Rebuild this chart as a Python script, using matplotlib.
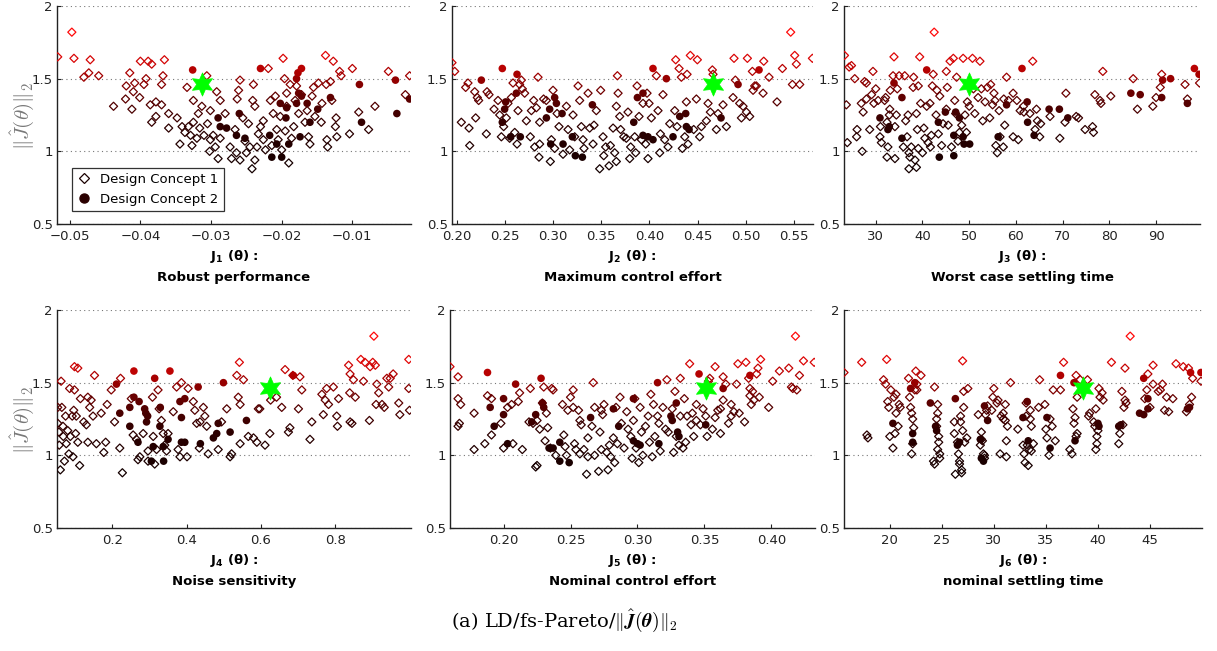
import numpy as np
import matplotlib
matplotlib.use("Agg")
import matplotlib.pyplot as plt
from matplotlib.colors import LinearSegmentedColormap, Normalize
from matplotlib.lines import Line2D

# ---- data: (J_i value, ||J(theta)||_2) ----
j1_concept1 = [
    (-0.0517, 1.65), (-0.0497, 1.82), (-0.0494, 1.64), (-0.048, 1.51), (-0.0473, 1.54), (-0.0471, 1.63),
    (-0.0459, 1.52), (-0.0438, 1.31), (-0.0421, 1.36), (-0.042, 1.45), (-0.0415, 1.54), (-0.0412, 1.29),
    (-0.041, 1.41), (-0.0408, 1.47), (-0.0401, 1.37), (-0.040, 1.62), (-0.0395, 1.46), (-0.0392, 1.50),
    (-0.0389, 1.62), (-0.0384, 1.60), (-0.0386, 1.32), (-0.0384, 1.20), (-0.0378, 1.34), (-0.0378, 1.24),
    (-0.037, 1.46), (-0.0368, 1.52), (-0.0366, 1.63), (-0.037, 1.32), (-0.036, 1.16), (-0.036, 1.26),
    (-0.0348, 1.23), (-0.0341, 1.17), (-0.0344, 1.05), (-0.0337, 1.13), (-0.0334, 1.44), (-0.0332, 1.17),
    (-0.0329, 1.11), (-0.0327, 1.04), (-0.0325, 1.35), (-0.0325, 1.20), (-0.032, 1.09), (-0.0318, 1.26),
    (-0.0316, 1.16), (-0.0313, 1.31), (-0.031, 1.11), (-0.0306, 1.52), (-0.0305, 1.19), (-0.0302, 1.00),
    (-0.0301, 1.08), (-0.0301, 1.28), (-0.0297, 1.11), (-0.0294, 1.03), (-0.0292, 1.41), (-0.029, 0.95),
    (-0.0287, 1.35), (-0.0287, 1.09), (-0.028, 1.26), (-0.0273, 1.03), (-0.0271, 0.95), (-0.0266, 1.15),
    (-0.0264, 0.99), (-0.0263, 1.36), (-0.0261, 1.42), (-0.0259, 1.49), (-0.0259, 0.94), (-0.0255, 1.23),
    (-0.0252, 1.07), (-0.025, 0.99), (-0.0247, 1.19), (-0.0245, 1.03), (-0.0242, 0.88), (-0.0241, 1.35),
    (-0.024, 1.46), (-0.0238, 1.31), (-0.0238, 0.94), (-0.0235, 1.03), (-0.0233, 1.12), (-0.023, 1.17),
    (-0.0226, 1.08), (-0.0226, 1.21), (-0.0223, 1.01), (-0.0219, 1.57), (-0.0216, 1.35), (-0.0214, 1.04),
    (-0.0212, 1.26), (-0.0209, 1.38), (-0.0207, 1.15), (-0.0205, 1.08), (-0.0202, 1.24), (-0.020, 1.01),
    (-0.0198, 1.64), (-0.0196, 1.50), (-0.0195, 1.14), (-0.0193, 1.31), (-0.0193, 1.40), (-0.019, 0.92),
    (-0.0188, 1.46), (-0.0186, 1.09), (-0.0183, 1.17), (-0.0181, 1.35), (-0.0179, 1.45), (-0.0176, 1.26),
    (-0.0172, 1.39), (-0.0167, 1.20), (-0.0164, 1.28), (-0.0162, 1.10), (-0.016, 1.05), (-0.0157, 1.38),
    (-0.0155, 1.44), (-0.0153, 1.24), (-0.0148, 1.47), (-0.0144, 1.20), (-0.0143, 1.33), (-0.0138, 1.66),
    (-0.0137, 1.46), (-0.0136, 1.08), (-0.0135, 1.03), (-0.0131, 1.48), (-0.0129, 1.35), (-0.0127, 1.62),
    (-0.0124, 1.17), (-0.0123, 1.23), (-0.0122, 1.10), (-0.0118, 1.55), (-0.0116, 1.52), (-0.0104, 1.12),
    (-0.010, 1.57), (-0.0091, 1.27), (-0.0077, 1.15), (-0.0068, 1.31), (-0.0049, 1.55), (-0.0025, 1.39),
    (-0.0019, 1.52),
]
j1_concept2 = [
    (-0.0326, 1.56), (-0.029, 1.23), (-0.0287, 1.17), (-0.0278, 1.16), (-0.026, 1.26), (-0.0264, 1.11),
    (-0.0252, 1.09), (-0.023, 1.57), (-0.0217, 1.11), (-0.0214, 0.96), (-0.0207, 1.05), (-0.0202, 1.33),
    (-0.020, 0.96), (-0.0194, 1.23), (-0.0193, 1.30), (-0.019, 1.05), (-0.0179, 1.50), (-0.0177, 1.54),
    (-0.0172, 1.57), (-0.0176, 1.40), (-0.0172, 1.38), (-0.0179, 1.33), (-0.0174, 1.10), (-0.0164, 1.33),
    (-0.016, 1.20), (-0.0149, 1.29), (-0.0131, 1.37), (-0.009, 1.46), (-0.0087, 1.20), (-0.0039, 1.49),
    (-0.0037, 1.26), (-0.0019, 1.36),
]

j2_concept1 = [
    (0.1948, 1.61), (0.1976, 1.55), (0.2045, 1.20), (0.209, 1.44), (0.2114, 1.47), (0.2125, 1.16),
    (0.2132, 1.04), (0.2194, 1.23), (0.2184, 1.41), (0.2211, 1.37), (0.2225, 1.35), (0.2305, 1.12),
    (0.2312, 1.41), (0.2333, 1.39), (0.2385, 1.29), (0.2426, 1.35), (0.2444, 1.25), (0.2461, 1.10),
    (0.2485, 1.17), (0.2513, 1.23), (0.253, 1.33), (0.2547, 1.09), (0.2565, 1.37), (0.2582, 1.47),
    (0.260, 1.13), (0.2624, 1.05), (0.2634, 1.28), (0.2651, 1.46), (0.2669, 1.49), (0.2679, 1.43),
    (0.2703, 1.40), (0.2721, 1.21), (0.2762, 1.10), (0.2773, 1.28), (0.2797, 1.35), (0.2807, 1.03),
    (0.2825, 1.30), (0.2842, 1.51), (0.2852, 0.96), (0.2859, 1.05), (0.2859, 1.20), (0.290, 1.36),
    (0.2928, 1.35), (0.297, 0.93), (0.2981, 1.08), (0.2998, 1.42), (0.3015, 1.02), (0.304, 1.26),
    (0.306, 1.17), (0.3102, 0.98), (0.3137, 1.31), (0.3154, 1.15), (0.3171, 1.01), (0.3206, 1.25),
    (0.3223, 1.10), (0.3258, 1.45), (0.3275, 1.35), (0.3292, 1.17), (0.331, 1.08), (0.332, 1.02),
    (0.3362, 1.40), (0.3379, 1.16), (0.3414, 1.05), (0.3424, 1.18), (0.3448, 1.28), (0.3483, 0.88),
    (0.3493, 1.42), (0.3518, 1.10), (0.3525, 0.97), (0.3545, 1.03), (0.358, 0.90), (0.3594, 1.04),
    (0.3622, 1.16), (0.3639, 0.99), (0.3656, 1.31), (0.3656, 0.93), (0.3667, 1.52), (0.3674, 1.40),
    (0.3691, 1.24), (0.3701, 1.15), (0.3733, 1.10), (0.376, 1.09), (0.3777, 1.27), (0.3795, 0.95),
    (0.3805, 1.03), (0.3847, 1.10), (0.3857, 0.99), (0.3871, 1.45), (0.3892, 1.24), (0.3916, 1.08),
    (0.3933, 1.33), (0.3961, 1.05), (0.3975, 1.40), (0.3985, 0.95), (0.3996, 1.33), (0.402, 1.23),
    (0.4072, 1.52), (0.4089, 1.28), (0.4107, 0.99), (0.4114, 1.12), (0.4141, 1.39), (0.4159, 1.08),
    (0.4193, 1.03), (0.4211, 1.19), (0.4263, 1.28), (0.4273, 1.63), (0.4287, 1.17), (0.4308, 1.57),
    (0.4332, 1.51), (0.4342, 1.02), (0.4367, 1.10), (0.4384, 1.34), (0.4391, 1.53), (0.4401, 1.05),
    (0.4425, 1.66), (0.446, 1.15), (0.4488, 1.36), (0.4498, 1.63), (0.4522, 1.10), (0.454, 1.17),
    (0.4592, 1.21), (0.4609, 1.33), (0.4633, 1.27), (0.4654, 1.56), (0.4661, 1.53), (0.4696, 1.15),
    (0.4713, 1.26), (0.4765, 1.32), (0.480, 1.17), (0.4869, 1.37), (0.4879, 1.64), (0.4893, 1.49),
    (0.4938, 1.33), (0.4956, 1.23), (0.4973, 1.31), (0.5008, 1.27), (0.5018, 1.64), (0.5042, 1.24),
    (0.507, 1.55), (0.5077, 1.42), (0.5094, 1.45), (0.5111, 1.45), (0.5181, 1.40), (0.5188, 1.62),
    (0.5243, 1.51), (0.5326, 1.34), (0.5382, 1.57), (0.5468, 1.82), (0.5486, 1.46), (0.551, 1.66),
    (0.5527, 1.60), (0.5562, 1.46), (0.5694, 1.64),
]
j2_concept2 = [
    (0.2253, 1.49), (0.2471, 1.57), (0.2471, 1.20), (0.2495, 1.29), (0.2506, 1.34), (0.2558, 1.10),
    (0.2617, 1.40), (0.2624, 1.53), (0.2658, 1.10), (0.2929, 1.23), (0.2963, 1.29), (0.2974, 1.05),
    (0.3015, 1.37), (0.3033, 1.33), (0.3092, 1.26), (0.3102, 1.05), (0.3199, 1.10), (0.323, 0.97),
    (0.3303, 0.96), (0.3407, 1.32), (0.3875, 1.37), (0.3837, 1.20), (0.3933, 1.40), (0.3933, 1.11),
    (0.3985, 1.10), (0.4037, 1.08), (0.4037, 1.57), (0.4176, 1.50), (0.4245, 1.10), (0.4315, 1.24),
    (0.4377, 1.26), (0.4384, 1.17), (0.4412, 1.15), (0.4744, 1.23), (0.4921, 1.46), (0.5139, 1.56),
]

j3_concept1 = [
    (23.3, 1.66), (23.7, 1.32), (23.9, 1.06), (24.3, 1.58), (24.8, 1.59), (25.5, 1.50), (25.9, 1.10),
    (26.0, 1.15), (26.9, 1.33), (27.1, 1.00), (27.3, 1.27), (27.6, 1.48), (28.0, 1.47), (28.0, 1.36),
    (28.7, 1.15), (29.1, 1.39), (29.4, 1.55), (29.6, 1.33), (30.0, 1.43), (30.5, 1.35), (30.9, 1.10),
    (31.0, 1.17), (31.2, 1.06), (31.9, 1.35), (32.1, 1.37), (32.4, 1.20), (32.4, 0.96), (32.6, 1.03),
    (32.9, 1.25), (33.0, 1.29), (33.1, 1.42), (33.7, 1.52), (33.9, 1.65), (34.1, 0.95), (34.1, 1.17),
    (34.4, 1.25), (34.6, 1.43), (35.0, 1.52), (35.9, 1.03), (36.2, 1.52), (36.4, 1.21), (36.7, 1.10),
    (36.9, 1.25), (37.1, 0.99), (37.1, 0.88), (37.3, 0.96), (37.6, 1.03), (38.0, 1.44), (38.1, 1.51),
    (38.4, 0.94), (38.7, 1.26), (38.7, 0.89), (38.9, 1.15), (39.1, 1.02), (39.1, 1.45), (39.4, 1.65),
    (39.6, 1.33), (40.0, 0.99), (40.3, 1.16), (40.5, 1.09), (40.9, 1.31), (41.2, 1.06), (41.6, 1.33),
    (41.7, 1.03), (41.9, 1.11), (42.1, 1.45), (42.3, 1.53), (42.5, 1.82), (42.9, 1.25), (43.1, 1.42),
    (43.4, 1.12), (43.7, 1.38), (44.1, 1.04), (44.4, 1.19), (45.1, 1.55), (45.3, 1.44), (45.1, 1.29),
    (45.5, 1.18), (45.9, 1.62), (46.2, 1.03), (46.6, 1.64), (46.9, 1.35), (47.1, 1.26), (47.3, 1.51),
    (47.6, 1.07), (47.9, 1.13), (48.4, 1.18), (48.7, 1.64), (49.1, 1.25), (49.4, 1.13), (49.6, 1.34),
    (50.0, 1.31), (50.7, 1.64), (50.9, 1.43), (51.2, 1.26), (51.9, 1.37), (52.3, 1.62), (52.6, 1.43),
    (52.9, 1.21), (53.4, 1.34), (53.9, 1.44), (54.4, 1.23), (54.6, 1.46), (55.0, 1.32), (55.3, 1.40),
    (55.5, 1.35), (55.7, 1.04), (56.0, 0.99), (56.4, 1.28), (56.6, 1.10), (57.3, 1.03), (57.4, 1.36),
    (57.6, 1.18), (58.0, 1.51), (58.4, 1.35), (59.4, 1.10), (59.4, 1.40), (60.2, 1.35), (60.5, 1.08),
    (60.9, 1.28), (61.6, 1.31), (61.7, 1.27), (63.0, 1.26), (63.6, 1.62), (64.1, 1.15), (64.4, 1.29),
    (64.6, 1.21), (65.1, 1.10), (65.3, 1.19), (67.3, 1.24), (69.4, 1.09), (70.5, 1.20), (70.7, 1.40),
    (72.9, 1.24), (73.4, 1.23), (74.8, 1.15), (76.4, 1.17), (76.6, 1.13), (76.9, 1.39), (78.0, 1.35),
    (78.2, 1.33), (78.6, 1.55), (80.3, 1.38), (85.1, 1.50), (86.0, 1.29), (89.3, 1.31), (90.0, 1.37),
    (90.9, 1.44), (91.2, 1.53), (96.2, 1.46), (96.7, 1.36), (99.3, 1.47),
]
j3_concept2 = [
    (30.9, 1.23), (32.6, 1.15), (32.9, 1.17), (33.9, 1.47), (35.6, 1.37), (35.6, 1.09), (40.9, 1.56),
    (43.4, 1.20), (43.6, 0.96), (44.9, 1.27), (46.7, 1.11), (46.7, 0.97), (47.1, 1.27), (47.9, 1.23),
    (48.7, 1.10), (48.9, 1.05), (50.1, 1.05), (56.2, 1.10), (58.0, 1.32), (61.3, 1.57), (62.4, 1.34),
    (62.5, 1.20), (63.9, 1.11), (67.1, 1.29), (69.3, 1.29), (71.1, 1.23), (84.6, 1.40), (86.6, 1.39),
    (91.2, 1.37), (91.4, 1.49), (93.1, 1.50), (96.7, 1.33), (98.2, 1.57), (99.2, 1.53),
]

j4_concept1 = [
    (0.053, 1.33), (0.053, 1.22), (0.056, 1.16), (0.057, 1.07), (0.060, 0.90), (0.062, 1.51), (0.064, 1.33),
    (0.067, 1.20), (0.068, 1.13), (0.071, 0.96), (0.074, 1.27), (0.076, 1.08), (0.080, 1.17), (0.083, 1.01),
    (0.085, 1.46), (0.087, 1.13), (0.092, 1.27), (0.094, 0.99), (0.096, 1.31), (0.098, 1.61), (0.098, 1.45),
    (0.101, 1.15), (0.103, 1.27), (0.107, 1.60), (0.107, 1.09), (0.112, 0.93), (0.114, 1.39), (0.123, 1.23),
    (0.130, 1.21), (0.134, 1.40), (0.134, 1.09), (0.139, 1.33), (0.143, 1.38), (0.148, 1.27), (0.152, 1.55),
    (0.157, 1.08), (0.170, 1.29), (0.177, 1.02), (0.182, 1.09), (0.186, 1.35), (0.197, 1.45), (0.206, 1.23),
    (0.220, 1.05), (0.222, 1.53), (0.227, 0.88), (0.251, 1.39), (0.256, 1.14), (0.265, 1.11), (0.269, 0.97),
    (0.274, 0.99), (0.283, 1.15), (0.296, 0.96), (0.296, 1.03), (0.308, 1.40), (0.310, 1.13), (0.314, 0.94),
    (0.319, 1.04), (0.323, 1.45), (0.326, 1.32), (0.332, 1.24), (0.337, 1.15), (0.341, 1.07), (0.346, 1.03),
    (0.350, 1.15), (0.364, 1.30), (0.373, 1.47), (0.377, 1.04), (0.382, 0.99), (0.386, 1.50), (0.401, 0.99),
    (0.404, 1.46), (0.418, 1.37), (0.422, 1.31), (0.427, 1.22), (0.434, 1.05), (0.436, 1.23), (0.445, 1.33),
    (0.449, 1.27), (0.454, 1.20), (0.458, 1.01), (0.485, 1.04), (0.494, 1.23), (0.508, 1.32), (0.517, 0.99),
    (0.521, 1.01), (0.535, 1.55), (0.539, 1.40), (0.542, 1.64), (0.544, 1.35), (0.544, 1.08), (0.553, 1.52),
    (0.566, 1.13), (0.580, 1.12), (0.589, 1.09), (0.593, 1.32), (0.597, 1.32), (0.611, 1.07), (0.624, 1.15),
    (0.626, 1.38), (0.642, 1.40), (0.656, 1.33), (0.665, 1.59), (0.674, 1.16), (0.678, 1.19), (0.686, 1.55),
    (0.701, 1.32), (0.705, 1.54), (0.710, 1.45), (0.732, 1.11), (0.737, 1.23), (0.764, 1.42), (0.768, 1.28),
    (0.773, 1.38), (0.777, 1.46), (0.782, 1.35), (0.795, 1.47), (0.806, 1.20), (0.804, 1.27), (0.809, 1.39),
    (0.836, 1.62), (0.839, 1.43), (0.840, 1.56), (0.840, 1.23), (0.845, 1.22), (0.849, 1.52), (0.854, 1.40),
    (0.869, 1.66), (0.876, 1.51), (0.880, 1.64), (0.892, 1.24), (0.894, 1.61), (0.901, 1.64), (0.904, 1.82),
    (0.908, 1.62), (0.910, 1.35), (0.912, 1.49), (0.917, 1.43), (0.926, 1.35), (0.932, 1.33), (0.939, 1.53),
    (0.944, 1.47), (0.948, 1.53), (0.956, 1.56), (0.971, 1.36), (0.974, 1.28), (0.998, 1.66), (0.998, 1.46),
    (1.000, 1.31),
]
j4_concept2 = [
    (0.211, 1.49), (0.220, 1.29), (0.247, 1.20), (0.247, 1.33), (0.258, 1.58), (0.258, 1.40), (0.272, 1.37),
    (0.269, 1.09), (0.287, 1.32), (0.290, 1.29), (0.292, 1.23), (0.295, 1.27), (0.305, 0.96), (0.310, 1.06),
    (0.314, 1.53), (0.328, 1.20), (0.329, 1.33), (0.337, 1.06), (0.338, 0.96), (0.350, 1.11), (0.355, 1.58),
    (0.382, 1.37), (0.386, 1.26), (0.386, 1.09), (0.395, 1.39), (0.395, 1.09), (0.431, 1.47), (0.437, 1.08),
    (0.472, 1.12), (0.481, 1.15), (0.485, 1.22), (0.499, 1.50), (0.517, 1.16), (0.561, 1.24), (0.687, 1.55),
]

j5_concept1 = [
    (0.160, 1.61), (0.166, 1.54), (0.166, 1.39), (0.166, 1.20), (0.167, 1.22), (0.168, 1.35), (0.178, 1.04),
    (0.178, 1.29), (0.186, 1.08), (0.188, 1.41), (0.191, 1.39), (0.191, 1.14), (0.198, 1.22), (0.200, 1.05),
    (0.203, 1.33), (0.206, 1.35), (0.207, 1.08), (0.211, 1.37), (0.212, 1.43), (0.214, 1.04), (0.219, 1.23),
    (0.220, 1.46), (0.222, 1.22), (0.224, 0.92), (0.225, 0.93), (0.225, 1.24), (0.227, 1.18), (0.229, 1.36),
    (0.230, 1.47), (0.231, 1.10), (0.232, 1.29), (0.233, 1.19), (0.235, 1.05), (0.236, 1.46), (0.237, 1.45),
    (0.239, 1.00), (0.244, 1.35), (0.245, 1.14), (0.246, 1.06), (0.247, 1.00), (0.248, 1.31), (0.250, 1.40),
    (0.252, 1.33), (0.252, 1.45), (0.253, 1.08), (0.254, 1.04), (0.256, 1.31), (0.257, 1.24), (0.258, 1.21),
    (0.257, 1.01), (0.260, 1.04), (0.262, 0.87), (0.263, 1.12), (0.263, 0.99), (0.266, 1.20), (0.267, 1.50),
    (0.268, 1.00), (0.268, 1.33), (0.271, 0.89), (0.272, 1.16), (0.273, 1.31), (0.273, 1.04), (0.274, 1.28),
    (0.275, 1.35), (0.277, 1.02), (0.278, 0.90), (0.279, 1.07), (0.280, 0.99), (0.282, 1.12), (0.283, 0.95),
    (0.284, 1.33), (0.285, 1.08), (0.287, 1.40), (0.288, 1.22), (0.290, 1.05), (0.292, 1.30), (0.293, 1.18),
    (0.295, 1.13), (0.296, 0.98), (0.297, 1.24), (0.298, 1.39), (0.299, 1.05), (0.301, 0.95), (0.302, 1.33),
    (0.303, 1.16), (0.304, 1.00), (0.306, 1.20), (0.308, 1.27), (0.309, 1.09), (0.310, 1.42), (0.311, 0.99),
    (0.312, 1.35), (0.313, 1.13), (0.315, 1.27), (0.316, 1.22), (0.317, 1.03), (0.319, 1.33), (0.321, 1.18),
    (0.322, 1.52), (0.323, 1.16), (0.326, 1.32), (0.327, 1.02), (0.328, 1.44), (0.329, 1.13), (0.331, 1.07),
    (0.332, 1.53), (0.332, 1.27), (0.334, 1.05), (0.335, 1.39), (0.336, 1.09), (0.337, 1.27), (0.339, 1.63),
    (0.340, 1.21), (0.341, 1.29), (0.342, 1.13), (0.344, 1.35), (0.344, 1.24), (0.347, 1.21), (0.349, 1.32),
    (0.351, 1.27), (0.352, 1.13), (0.353, 1.51), (0.354, 1.53), (0.356, 1.18), (0.358, 1.61), (0.358, 1.26),
    (0.360, 1.31), (0.362, 1.32), (0.362, 1.15), (0.364, 1.54), (0.364, 1.38), (0.366, 1.49), (0.368, 1.22),
    (0.370, 1.35), (0.370, 1.27), (0.372, 1.30), (0.374, 1.49), (0.375, 1.63), (0.376, 1.29), (0.380, 1.23),
    (0.381, 1.64), (0.383, 1.53), (0.384, 1.46), (0.384, 1.41), (0.385, 1.35), (0.386, 1.44), (0.387, 1.38),
    (0.389, 1.56), (0.390, 1.60), (0.391, 1.40), (0.392, 1.66), (0.398, 1.33), (0.401, 1.51), (0.406, 1.58),
    (0.413, 1.60), (0.415, 1.47), (0.416, 1.46), (0.419, 1.45), (0.418, 1.82), (0.421, 1.55), (0.424, 1.65),
    (0.432, 1.64),
]
j5_concept2 = [
    (0.188, 1.57), (0.190, 1.33), (0.193, 1.20), (0.200, 1.39), (0.200, 1.28), (0.203, 1.08), (0.209, 1.49),
    (0.221, 1.23), (0.224, 1.28), (0.228, 1.53), (0.229, 1.36), (0.230, 1.33), (0.234, 1.05), (0.237, 1.05),
    (0.242, 1.09), (0.242, 0.96), (0.249, 0.95), (0.265, 1.26), (0.282, 1.32), (0.286, 1.20), (0.297, 1.39),
    (0.297, 1.10), (0.300, 1.08), (0.302, 1.07), (0.315, 1.50), (0.316, 1.08), (0.325, 1.27), (0.326, 1.24),
    (0.329, 1.36), (0.330, 1.16), (0.331, 1.13), (0.346, 1.56), (0.351, 1.21), (0.364, 1.46), (0.384, 1.55),
]

j6_concept1 = [
    (15.6, 1.57), (17.3, 1.64), (17.8, 1.14), (17.9, 1.12), (19.4, 1.52), (19.7, 1.66), (19.6, 1.49),
    (19.8, 1.37), (19.9, 1.33), (20.0, 1.13), (20.1, 1.45), (20.3, 1.05), (20.4, 1.40), (20.5, 1.15),
    (20.6, 1.42), (20.6, 1.29), (20.8, 1.20), (20.9, 1.35), (21.0, 1.33), (21.8, 1.53), (21.9, 1.40),
    (22.0, 1.33), (22.1, 1.29), (22.1, 1.01), (22.2, 1.25), (22.2, 1.08), (22.3, 1.19), (22.4, 1.45),
    (22.5, 1.58), (22.6, 1.45), (22.6, 1.49), (23.0, 1.55), (24.2, 0.96), (24.3, 1.47), (24.3, 0.94),
    (24.5, 1.25), (24.5, 1.20), (24.6, 1.35), (24.6, 1.29), (24.6, 1.04), (24.7, 1.13), (24.7, 1.09),
    (24.8, 1.01), (24.8, 0.98), (26.2, 1.23), (26.2, 1.15), (26.3, 0.87), (26.5, 1.09), (26.6, 1.01),
    (26.7, 0.96), (26.7, 0.94), (26.8, 1.23), (26.8, 1.27), (26.9, 0.90), (26.9, 0.88), (27.0, 1.17),
    (27.0, 1.65), (27.1, 1.33), (27.1, 1.44), (27.2, 1.09), (27.4, 1.12), (27.5, 1.46), (28.5, 1.28),
    (28.7, 1.07), (28.8, 1.16), (28.8, 1.11), (28.9, 1.10), (29.0, 1.01), (29.1, 0.98), (29.1, 1.00),
    (29.2, 1.28), (29.3, 1.31), (29.4, 1.34), (29.8, 1.31), (29.9, 1.40), (30.0, 1.46), (30.3, 1.36),
    (30.4, 1.38), (30.6, 1.01), (30.7, 1.27), (30.9, 1.25), (30.9, 1.29), (31.1, 1.24), (31.1, 1.35),
    (31.2, 0.99), (31.2, 1.10), (31.3, 1.20), (31.6, 1.50), (32.3, 1.18), (32.8, 1.07), (32.9, 1.01),
    (33.0, 0.95), (33.1, 1.27), (33.1, 1.36), (33.2, 1.07), (33.3, 0.93), (33.4, 1.04), (33.5, 1.25),
    (33.5, 1.31), (33.6, 1.20), (33.6, 1.03), (33.8, 1.08), (34.3, 1.33), (34.4, 1.52), (34.9, 1.35),
    (35.0, 1.18), (35.1, 1.12), (35.3, 1.00), (35.4, 1.25), (35.6, 1.20), (35.7, 1.45), (35.9, 1.10),
    (36.4, 1.45), (36.7, 1.64), (37.3, 1.04), (37.5, 1.01), (37.6, 1.32), (37.7, 1.22), (37.8, 1.26),
    (37.9, 1.13), (37.9, 1.55), (38.0, 1.15), (38.0, 1.40), (38.3, 1.52), (39.0, 1.52), (39.1, 1.27),
    (39.2, 1.29), (39.6, 1.23), (39.7, 1.20), (39.8, 1.32), (39.8, 1.04), (39.9, 1.13), (39.9, 1.08),
    (40.0, 1.17), (40.1, 1.46), (40.2, 1.40), (40.4, 1.43), (40.5, 1.38), (41.3, 1.64), (42.0, 1.08),
    (42.1, 1.15), (42.3, 1.44), (42.4, 1.21), (42.5, 1.33), (42.6, 1.60), (42.6, 1.38), (42.7, 1.36),
    (43.1, 1.82), (44.5, 1.39), (44.7, 1.45), (44.8, 1.56), (45.0, 1.33), (45.3, 1.62), (45.3, 1.49),
    (45.8, 1.44), (46.0, 1.45), (46.2, 1.49), (46.4, 1.31), (46.6, 1.40), (46.8, 1.30), (47.2, 1.39),
    (47.5, 1.63), (48.2, 1.61), (48.5, 1.30), (48.7, 1.60), (48.8, 1.35), (49.0, 1.40), (49.1, 1.53),
    (49.9, 1.51),
]
j6_concept2 = [
    (20.3, 1.22), (22.0, 1.46), (22.2, 1.15), (22.2, 1.09), (22.4, 1.50), (23.9, 1.36), (24.4, 1.20),
    (24.5, 1.17), (26.3, 1.39), (26.5, 1.07), (26.7, 1.09), (28.7, 1.11), (28.8, 0.98), (29.0, 0.96),
    (29.1, 1.34), (29.4, 1.24), (32.8, 1.26), (33.2, 1.37), (33.3, 1.10), (35.1, 1.26), (35.4, 1.05),
    (36.4, 1.55), (37.7, 1.50), (37.8, 1.10), (40.0, 1.22), (40.1, 1.20), (42.0, 1.20), (42.2, 1.21),
    (44.0, 1.29), (44.4, 1.28), (44.4, 1.53), (44.8, 1.39), (44.8, 1.32), (48.6, 1.32), (48.8, 1.33),
    (48.9, 1.57), (49.9, 1.57),
]

# chosen (knee) solution, shown as the green star
star_x = [-0.0313, 0.4661, 50.0, 0.624, 0.351, 38.6]
star_norm = 1.46

x_names = ["J$_\\mathbf{1}$ (θ) :", "J$_\\mathbf{2}$ (θ) :", "J$_\\mathbf{3}$ (θ) :",
           "J$_\\mathbf{4}$ (θ) :", "J$_\\mathbf{5}$ (θ) :", "J$_\\mathbf{6}$ (θ) :"]
x_titles = ["Robust performance", "Maximum control effort", "Worst case settling time",
            "Noise sensitivity", "Nominal control effort", "nominal settling time"]
x_ticks = [
    [-0.05, -0.04, -0.03, -0.02, -0.01],
    [0.2, 0.25, 0.3, 0.35, 0.4, 0.45, 0.5, 0.55],
    [30, 40, 50, 60, 70, 80, 90],
    [0.2, 0.4, 0.6, 0.8],
    [0.2, 0.25, 0.3, 0.35, 0.4],
    [20, 25, 30, 35, 40, 45],
]
x_limits = [(-0.0518, -0.0017), (0.1948, 0.570), (23.2, 99.4),
            (0.051, 1.004), (0.160, 0.4326), (15.6, 50.0)]
concept1 = [j1_concept1, j2_concept1, j3_concept1, j4_concept1, j5_concept1, j6_concept1]
concept2 = [j1_concept2, j2_concept2, j3_concept2, j4_concept2, j5_concept2, j6_concept2]

# axes boxes in pixels: left, right, top, bottom
W, H = 1217, 651
boxes = [(57, 411, 6, 224), (452, 813, 6, 224), (844, 1200, 6, 224),
         (57, 411, 310, 528), (450, 815, 310, 528), (844, 1202, 310, 528)]

# dark for small norms, bright red for the largest ones
cmap = LinearSegmentedColormap.from_list(
    "blackred", [(0.0, "#140000"), (0.35, "#2e0000"), (0.6, "#620000"),
                 (0.78, "#a80000"), (1.0, "#ff0a0a")])
norm = Normalize(vmin=0.88, vmax=1.72, clip=True)

fig = plt.figure(figsize=(W / 100, H / 100), dpi=100)

for i in range(6):
    l, r, t, b = boxes[i]
    ax = fig.add_axes([l / W, 1 - b / H, (r - l) / W, (b - t) / H])
    d = np.array(concept1[i])
    c = np.array(concept2[i])
    ax.scatter(d[:, 0], d[:, 1], marker="D", s=17, facecolors="none",
               edgecolors=cmap(norm(d[:, 1])), linewidths=0.9, zorder=3)
    ax.scatter(c[:, 0], c[:, 1], marker="o", s=30, c=cmap(norm(c[:, 1])),
               edgecolors="none", zorder=4)
    ax.scatter([star_x[i]], [star_norm], marker=(6, 1, 0), s=280, c="#00ff00",
               edgecolors="#00ff00", linewidths=0.5, zorder=5)

    ax.set_xlim(*x_limits[i])
    ax.set_ylim(0.5, 2)
    ax.set_xticks(x_ticks[i])
    ax.set_yticks([0.5, 1, 1.5, 2])
    ax.set_yticklabels(["0.5", "1", "1.5", "2"])
    if i in (0, 3):
        ax.set_xticklabels([("%g" % v).replace("-", "\u2212") for v in x_ticks[i]])
    ax.tick_params(direction="in", length=3, labelsize=9.5, pad=3, colors="#222222")
    ax.tick_params(axis="x", pad=4)
    for side in ("top", "right"):
        ax.spines[side].set_visible(False)
    for side in ("left", "bottom"):
        ax.spines[side].set_linewidth(1.0)
        ax.spines[side].set_color("#222222")
    ax.yaxis.grid(True, linestyle=(0, (1, 3)), color="#777777", linewidth=0.8)
    ax.set_axisbelow(True)
    ax.set_xlabel(x_names[i] + "\n" + x_titles[i], fontsize=9.5, fontweight="bold",
                  linespacing=1.6, labelpad=4)
    if i in (0, 3):
        ax.set_ylabel(r"$\|\hat{J}(\theta)\|_2$", fontsize=15, color="#787878",
                      math_fontfamily="cm", va="center")
        ax.yaxis.set_label_coords(-(57 - 22) / (411 - 57), (224 - 116) / 218)
    if i == 0:
        handles = [
            Line2D([], [], marker="D", linestyle="none", markersize=5, markerfacecolor="none",
                   markeredgecolor="#1a0000", markeredgewidth=0.9),
            Line2D([], [], marker="o", linestyle="none", markersize=6.5, markerfacecolor="#2a0000",
                   markeredgecolor="#2a0000"),
        ]
        leg = ax.legend(handles, ["Design Concept 1", "Design Concept 2"], loc="lower left",
                        bbox_to_anchor=(0.025, 0.03), fontsize=9.5, frameon=True, fancybox=False,
                        edgecolor="black", handletextpad=0.7, borderpad=0.4, labelspacing=0.5,
                        handlelength=1.0)
        leg.get_frame().set_linewidth(0.9)
        leg.set_zorder(10)

fig.text(564 / W, 1 - 621 / H,
         r"(a) LD/fs-Pareto/$\|\hat{\mathbfit{J}}(\mathbfit{\theta})\|_2$",
         ha="center", va="center", fontsize=14, family="serif", math_fontfamily="cm")

fig.savefig("out.png", dpi=100)
